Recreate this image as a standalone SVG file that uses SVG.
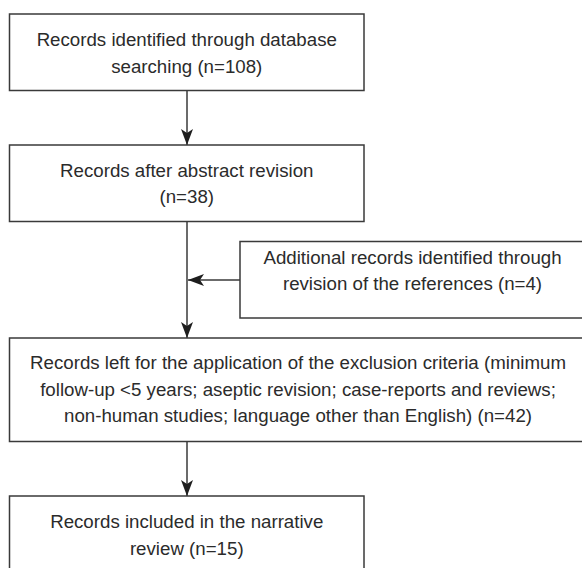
<svg xmlns="http://www.w3.org/2000/svg" width="582" height="568" viewBox="0 0 582 568">
<style>
.box{fill:#fff;stroke:#3a3a3a;stroke-width:1.5}
.t{font-family:"Liberation Sans",Arial,Helvetica,sans-serif;font-size:18.7px;fill:#2b2b2b;text-anchor:middle}
.c{stroke:#3a3a3a;stroke-width:1.5;fill:none;marker-end:url(#ah)}
</style>
<defs>
<marker id="ah" markerUnits="userSpaceOnUse" markerWidth="16" markerHeight="14" refX="16" refY="7" orient="auto">
<path d="M0,1 L16,7 L0,13 L4,7 Z" fill="#1e1e1e"/>
</marker>
</defs>
<rect width="582" height="568" fill="#fff"/>
<g id="connectors">
<line class="c" x1="187" y1="90.5" x2="187" y2="145"/>
<line class="c" x1="187" y1="221.5" x2="187" y2="338"/>
<line class="c" x1="240" y1="280" x2="188" y2="280"/>
<line class="c" x1="187" y1="441.5" x2="187" y2="496"/>
</g>
<g id="n1">
<rect class="box" x="9.5" y="14" width="354.5" height="76.5"/>
<text class="t" x="186.75" y="46">Records identified through database</text>
<text class="t" x="186.75" y="72.5">searching (n=108)</text>
</g>
<g id="n2">
<rect class="box" x="9.5" y="145" width="354.5" height="76.5"/>
<text class="t" x="186.75" y="176.7">Records after abstract revision</text>
<text class="t" x="186.75" y="203.3">(n=38)</text>
</g>
<g id="n3">
<rect class="box" x="240" y="241.5" width="350" height="76.5"/>
<text class="t" x="412.5" y="263.5">Additional records identified through</text>
<text class="t" x="412.5" y="290">revision of the references (n=4)</text>
</g>
<g id="n4">
<rect class="box" x="9.5" y="338" width="580" height="103.5"/>
<text class="t" x="298" y="369">Records left for the application of the exclusion criteria (minimum</text>
<text class="t" x="298" y="395.5">follow-up &lt;5 years; aseptic revision; case-reports and reviews;</text>
<text class="t" x="298" y="422">non-human studies; language other than English) (n=42)</text>
</g>
<g id="n5">
<rect class="box" x="9.5" y="496" width="354.5" height="80"/>
<text class="t" x="186.75" y="528.3">Records included in the narrative</text>
<text class="t" x="186.75" y="555">review (n=15)</text>
</g>
</svg>
